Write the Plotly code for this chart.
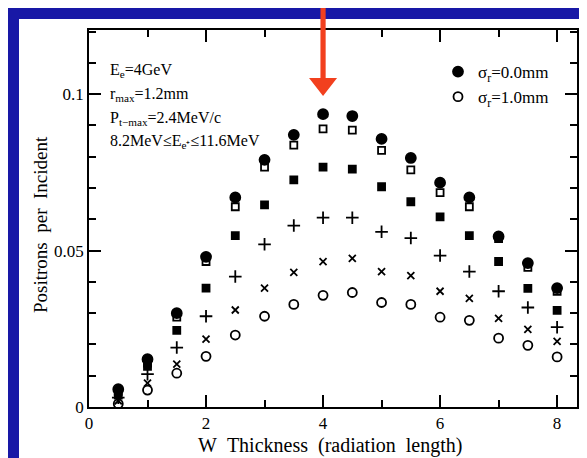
import plotly.graph_objects as go

thickness = [0.5, 1.0, 1.5, 2.0, 2.5, 3.0, 3.5, 4.0, 4.5, 5.0, 5.5, 6.0, 6.5, 7.0, 7.5, 8.0]

sigma_00 = [0.0057, 0.0153, 0.0300, 0.0480, 0.0670, 0.0790, 0.0870, 0.0936, 0.0930, 0.0857, 0.0796, 0.0717, 0.0670, 0.0545, 0.0460, 0.0380]
sigma_02 = [0.0050, 0.0140, 0.0287, 0.0465, 0.0640, 0.0767, 0.0837, 0.0889, 0.0885, 0.0820, 0.0758, 0.0685, 0.0640, 0.0538, 0.0446, 0.0370]
sigma_04 = [0.0038, 0.0130, 0.0245, 0.0380, 0.0548, 0.0646, 0.0726, 0.0767, 0.0760, 0.0704, 0.0656, 0.0608, 0.0548, 0.0465, 0.0379, 0.0309]
sigma_06 = [0.0030, 0.0105, 0.0190, 0.0290, 0.0417, 0.0520, 0.0580, 0.0605, 0.0605, 0.0560, 0.0540, 0.0484, 0.0433, 0.0370, 0.0318, 0.0255]
sigma_08 = [0.0020, 0.0076, 0.0137, 0.0217, 0.0310, 0.0380, 0.0430, 0.0465, 0.0475, 0.0433, 0.0420, 0.0370, 0.0347, 0.0283, 0.0248, 0.0210]
sigma_10 = [0.0010, 0.0054, 0.0108, 0.0162, 0.0230, 0.0290, 0.0328, 0.0357, 0.0366, 0.0334, 0.0328, 0.0287, 0.0277, 0.0220, 0.0197, 0.0160]

legend_names = ["σ<sub>r</sub>=0.0mm", "σ<sub>r</sub>=1.0mm"]
x_tick_vals = [0, 2, 4, 6, 8]
y_tick_vals = [0, 0.05, 0.1]
y_tick_text = ["0", "0.05", "0.1"]
info_lines = ["E<sub>e</sub>=4GeV", "r<sub>max</sub>=1.2mm", "P<sub>t−max</sub>=2.4MeV/c", "8.2MeV≤E<sub>e⁺</sub>≤11.6MeV"]

SERIF = "Liberation Serif, Times New Roman, serif"
BLUE = "#1818a6"

fig = go.Figure()

series = [
    (sigma_10, "circle-open", 9, legend_names[1], True),
    (sigma_08, "x-thin-open", 7, "σ=0.8", False),
    (sigma_06, "cross-thin-open", 9, "σ=0.6", False),
    (sigma_04, "square", 7, "σ=0.4", False),
    (sigma_02, "square-open", 7, "σ=0.2", False),
    (sigma_00, "circle", 10, legend_names[0], True),
]
for vals, sym, size, name, show in series:
    fig.add_trace(go.Scatter(
        x=thickness, y=vals, mode="markers", name=name, showlegend=show,
        marker=dict(symbol=sym, size=size, color="black",
                    line=dict(color="black", width=1.8)),
    ))

axis_common = dict(showline=True, linecolor="black", linewidth=1.5, mirror="allticks",
                   ticks="inside", ticklen=12, tickwidth=1.5, tickcolor="black",
                   showgrid=False, zeroline=False,
                   tickfont=dict(family=SERIF, size=17, color="black"))

fig.update_xaxes(range=[0, 8.34], tickvals=x_tick_vals,
                 minor=dict(dtick=1, ticks="inside", ticklen=7, tickwidth=1.5, tickcolor="black"),
                 **axis_common)
fig.update_yaxes(range=[0, 0.1205], tickvals=y_tick_vals, ticktext=y_tick_text,
                 minor=dict(dtick=0.01, ticks="inside", ticklen=7, tickwidth=1.5, tickcolor="black"),
                 **axis_common)

W, H = 587, 458
L, R, T, B = 81, 18, 22, 59
pw, ph = W - L - R, H - T - B
def px_x(p):
    return (p - L) / pw
def px_y(p):
    return (H - B - p) / ph

# blue slide border (top and left strips, thin right strip)
fig.add_shape(type="rect", xref="paper", yref="paper",
              x0=px_x(-5), x1=px_x(W + 5), y0=px_y(11), y1=px_y(-5),
              fillcolor=BLUE, line=dict(width=0), layer="below")
fig.add_shape(type="rect", xref="paper", yref="paper",
              x0=px_x(-5), x1=px_x(11), y0=px_y(H + 5), y1=px_y(-5),
              fillcolor=BLUE, line=dict(width=0), layer="below")
fig.add_shape(type="rect", xref="paper", yref="paper",
              x0=px_x(577), x1=px_x(W + 5), y0=px_y(H + 5), y1=px_y(-5),
              fillcolor=BLUE, line=dict(width=0), layer="below")

# red arrow pointing at 4 X0
hw, sw = 14 / (pw / 8.34), 2.6 / (pw / 8.34)
fig.add_shape(type="path", xref="x", yref="paper",
              path=(f"M {4 - sw} {px_y(-2)} L {4 + sw} {px_y(-2)} L {4 + sw} {px_y(70)} "
                    f"L {4 + hw} {px_y(70)} L 4 {px_y(88)} L {4 - hw} {px_y(70)} "
                    f"L {4 - sw} {px_y(70)} Z"),
              fillcolor="#f2401e", line=dict(width=0), layer="above")

for i, t in enumerate(info_lines):
    fig.add_annotation(x=px_x(100), y=px_y(63 + i * 23.5), xref="paper", yref="paper",
                       text=t, showarrow=False, xanchor="left", yanchor="middle",
                       font=dict(family=SERIF, size=16, color="black"))

fig.add_annotation(x=px_x(322), xref="paper", y=px_y(437), yref="paper",
                   text="W\u00a0\u00a0Thickness\u00a0\u00a0(radiation\u00a0\u00a0length)",
                   showarrow=False, xanchor="center", yanchor="middle",
                   font=dict(family=SERIF, size=20, color="black"))
fig.add_annotation(x=px_x(33), xref="paper", y=px_y(217), yref="paper",
                   text="Positrons\u00a0\u00a0per\u00a0\u00a0Incident", textangle=-90,
                   showarrow=False, xanchor="center", yanchor="middle",
                   font=dict(family=SERIF, size=19, color="black"))

fig.update_layout(
    width=W, height=H,
    margin=dict(l=L, r=R, t=T, b=B),
    paper_bgcolor="white", plot_bgcolor="white",
    showlegend=True,
    legend=dict(x=px_x(430), y=px_y(46), xanchor="left", yanchor="top",
                bgcolor="rgba(0,0,0,0)", traceorder="reversed",
                font=dict(family=SERIF, size=17, color="black"),
                itemwidth=30, tracegroupgap=0),
)

fig.write_html("out.html")
